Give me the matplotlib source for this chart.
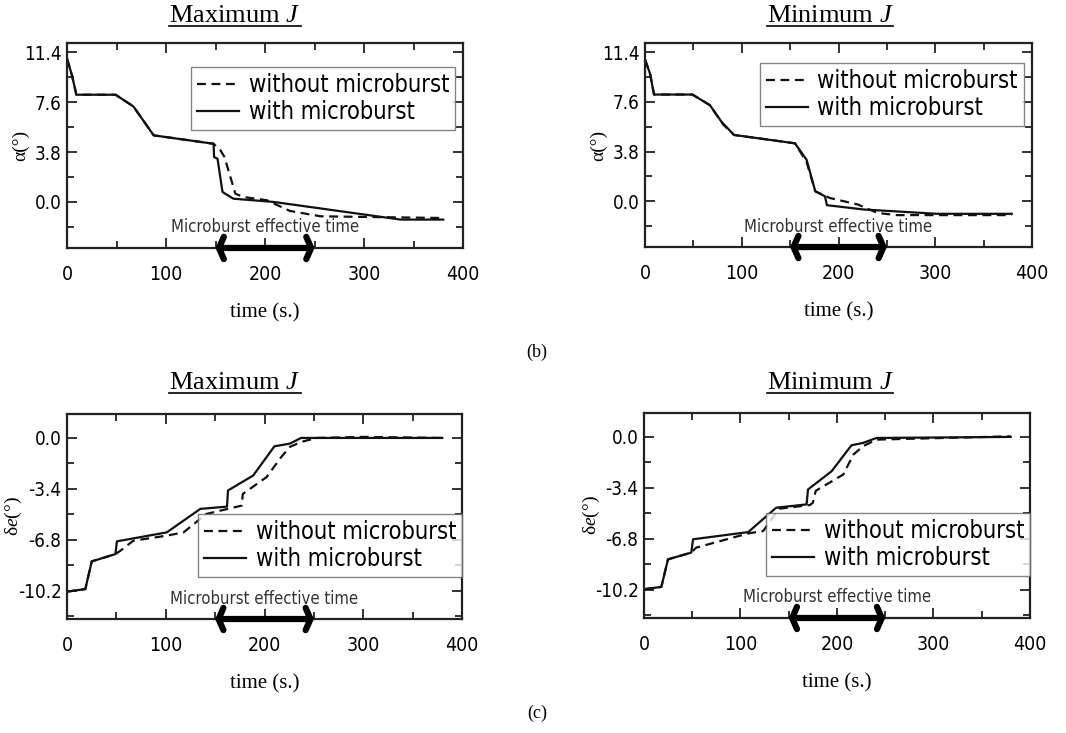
import os
import matplotlib
matplotlib.use("Agg")
import matplotlib.pyplot as plt
import matplotlib.font_manager as fm
from matplotlib.lines import Line2D
from matplotlib.ticker import MultipleLocator, FixedLocator


def narrow_font_file():
    # prefer a narrow / condensed sans face when one is installed
    wanted = ["LiberationSansNarrow-Regular", "DejaVuSansCondensed.",
              "RobotoCondensed-Regular", "OpenSans_Condensed-Regular",
              "OpenSansCondensed-Regular"]
    files = [f.fname for f in fm.fontManager.ttflist]
    for w in wanted:
        for f in files:
            if w.lower() in os.path.basename(f).lower():
                return f
    return None


NARROW_FILE = narrow_font_file()


def narrow(size):
    if NARROW_FILE:
        return fm.FontProperties(fname=NARROW_FILE, size=size)
    return fm.FontProperties(family="Roboto", size=size, stretch="condensed")


SERIF = "Liberation Serif"
plt.rcParams["mathtext.fontset"] = "custom"
plt.rcParams["mathtext.rm"] = SERIF
plt.rcParams["mathtext.it"] = SERIF + ":italic"

# ---- data: alpha, maximum J ----
t_a_max_with = [0, 5, 9.4, 49, 67, 87.5, 148, 148.5, 152, 157, 168, 209, 337, 380]
a_max_with = [10.9, 9.63, 8.16, 8.16, 7.27, 5.07, 4.43, 3.42, 3.29, 0.76, 0.25, 0.0, -1.34, -1.34]
t_a_max_without = [0, 5, 9.4, 49, 67, 87.5, 148, 155, 159, 170, 178, 202, 225, 256, 303, 380]
a_max_without = [10.9, 9.63, 8.16, 8.16, 7.27, 5.07, 4.43, 3.93, 3.42, 0.63, 0.38, 0.13, -0.68, -1.09, -1.14, -1.22]

# ---- data: alpha, minimum J ----
t_a_min_with = [0, 5.2, 9.3, 49, 67, 79, 92, 155, 167, 176, 186, 188, 226, 302, 379]
a_min_with = [10.84, 9.75, 8.16, 8.16, 7.35, 6.08, 5.07, 4.43, 3.17, 0.76, 0.38, -0.3, -0.63, -0.96, -0.96]
t_a_min_without = [0, 5.2, 9.3, 49, 67, 81, 92, 155, 167, 176, 191, 220, 240, 260, 379]
a_min_without = [10.84, 9.75, 8.16, 8.16, 7.35, 5.85, 5.07, 4.43, 3.0, 0.76, 0.25, -0.25, -0.89, -1.06, -1.06]

# ---- data: elevator, maximum J ----
t_e_max_with = [0, 18.5, 25, 49, 50.5, 101, 135, 162, 163, 188.5, 210, 225.6, 237, 380]
e_max_with = [-10.27, -10.1, -8.25, -7.76, -6.91, -6.31, -4.74, -4.59, -3.51, -2.51, -0.56, -0.38, 0.0, 0.0]
t_e_max_without = [0, 18.5, 25, 49, 54, 67, 101, 118, 141, 177, 178, 202, 217, 225.6, 237, 252.5, 300, 380]
e_max_without = [-10.27, -10.1, -8.25, -7.76, -7.54, -6.87, -6.53, -6.31, -5.08, -4.52, -3.74, -2.62, -1.27, -0.6, -0.27, 0.0, 0.07, 0.0]

# ---- data: elevator, minimum J ----
t_e_min_with = [0, 18, 24.9, 49, 50.9, 108, 137, 168.5, 170, 194.5, 215, 227, 241, 380]
e_min_with = [-10.18, -10.02, -8.18, -7.73, -6.84, -6.36, -4.73, -4.51, -3.51, -2.29, -0.56, -0.4, -0.07, 0.0]
t_e_min_without = [0, 18, 24.9, 49, 54, 108, 123.5, 140, 172, 175, 178, 206.6, 217, 227, 241, 380]
e_min_without = [-10.18, -10.02, -8.18, -7.73, -7.4, -6.45, -6.29, -4.8, -4.55, -4.4, -3.6, -2.51, -1.18, -0.62, -0.18, 0.04]

microburst_window = (150, 250)

alpha_ticks = [0.0, 3.8, 7.6, 11.4]
elev_ticks = [-10.2, -6.8, -3.4, 0.0]

W, H = 1066, 733
fig = plt.figure(figsize=(W / 100, H / 100), dpi=100)

axes_pos = {
    "tl": [0.0629, 0.6617, 0.3715, 0.2797],
    "tr": [0.6051, 0.6630, 0.3630, 0.2783],
    "bl": [0.0629, 0.1555, 0.3705, 0.2797],
    "br": [0.6041, 0.1569, 0.3621, 0.2797],
}


def setup_panel(ax, yticks, ylim, ylabel, ylabel_x, legend_anchor,
                t_without, y_without, t_with, y_with):
    ax.plot(t_without, y_without, color="#111111", lw=1.6, ls=(0, (4, 2.5)),
            label="without microburst")
    ax.plot(t_with, y_with, color="#111111", lw=1.6, label="with microburst")
    ax.set_xlim(0, 400)
    ax.set_ylim(*ylim)
    ax.xaxis.set_major_locator(MultipleLocator(100))
    ax.xaxis.set_minor_locator(MultipleLocator(50))
    ax.yaxis.set_major_locator(FixedLocator(yticks))
    step = yticks[1] - yticks[0]
    ax.yaxis.set_minor_locator(MultipleLocator(step / 2))
    ax.tick_params(which="both", direction="in", top=True, right=True,
                   width=1.3, color="#222222")
    ax.tick_params(which="major", length=7)
    ax.tick_params(which="minor", length=5)
    ax.tick_params(axis="x", pad=12)
    ax.tick_params(axis="y", pad=4)
    ax.set_yticklabels([f"{v:.1f}" for v in yticks])
    for lab in ax.get_xticklabels():
        lab.set_fontproperties(narrow(14))
    for lab in ax.get_yticklabels():
        lab.set_fontproperties(narrow(13.5))
    for sp in ax.spines.values():
        sp.set_linewidth(1.6)
        sp.set_color("#222222")
    ax.set_xlabel("time (s.)", fontfamily=SERIF, fontsize=15, labelpad=14)
    ax.set_ylabel(ylabel, fontfamily=SERIF, fontsize=14)
    ax.yaxis.set_label_coords(ylabel_x, 0.5)

    leg = ax.legend(loc="upper right", bbox_to_anchor=legend_anchor,
                    prop=narrow(17), frameon=True,
                    fancybox=False, handlelength=1.8, handletextpad=0.4,
                    borderpad=0.25, labelspacing=0.15, borderaxespad=0.0)
    leg.get_frame().set_edgecolor("#666666")
    leg.get_frame().set_linewidth(1.0)

    # effective time of the microburst
    trans = ax.get_xaxis_transform()
    t0, t1 = microburst_window
    ax.annotate("", xy=(t0, 0), xytext=(t1, 0), xycoords=trans, textcoords=trans,
                arrowprops=dict(arrowstyle="<->,head_length=0.35,head_width=0.8",
                                lw=4.5, color="black", shrinkA=0, shrinkB=0),
                annotation_clip=False)
    ax.text((t0 + t1) / 2, 0.1, "Microburst effective time", transform=trans,
            ha="center", va="center", fontproperties=narrow(12),
            color="#333333")


ax_tl = fig.add_axes(axes_pos["tl"])
setup_panel(ax_tl, alpha_ticks, (-3.5, 12.1), r"α(°)", -0.095, (0.98, 0.883),
            t_a_max_without, a_max_without, t_a_max_with, a_max_with)
ax_tr = fig.add_axes(axes_pos["tr"])
setup_panel(ax_tr, alpha_ticks, (-3.5, 12.1), r"α(°)", -0.097, (0.979, 0.902),
            t_a_min_without, a_min_without, t_a_min_with, a_min_with)
ax_bl = fig.add_axes(axes_pos["bl"])
setup_panel(ax_bl, elev_ticks, (-12.1, 1.6), r"δ$e$(°)", -0.108, (1.0, 0.512),
            t_e_max_without, e_max_without, t_e_max_with, e_max_with)
ax_br = fig.add_axes(axes_pos["br"])
setup_panel(ax_br, elev_ticks, (-12.1, 1.6), r"δ$e$(°)", -0.11, (1.0, 0.512),
            t_e_min_without, e_min_without, t_e_min_with, e_min_with)

# panel headings, underlined
headings = [
    ("Maximum $J$", 235, 16),
    ("Minimum $J$", 830, 16),
    ("Maximum $J$", 235, 383),
    ("Minimum $J$", 830, 383),
]
head_texts = []
for s, px, py in headings:
    tx = fig.text(px / W, 1 - py / H, s, ha="center", va="center",
                  fontfamily=SERIF, fontsize=19)
    head_texts.append(tx)

fig.text(537 / W, 1 - 352 / H, "(b)", ha="center", va="center",
         fontfamily=SERIF, fontsize=13)
fig.text(537 / W, 1 - 713 / H, "(c)", ha="center", va="center",
         fontfamily=SERIF, fontsize=13)

fig.canvas.draw()
renderer = fig.canvas.get_renderer()
for tx in head_texts:
    bb = tx.get_window_extent(renderer)
    y_line = bb.y0 + 1
    fig.add_artist(Line2D([bb.x0 / W, bb.x1 / W], [y_line / H, y_line / H],
                          transform=fig.transFigure, color="black", lw=1.2))

fig.savefig("out.png", dpi=100)
